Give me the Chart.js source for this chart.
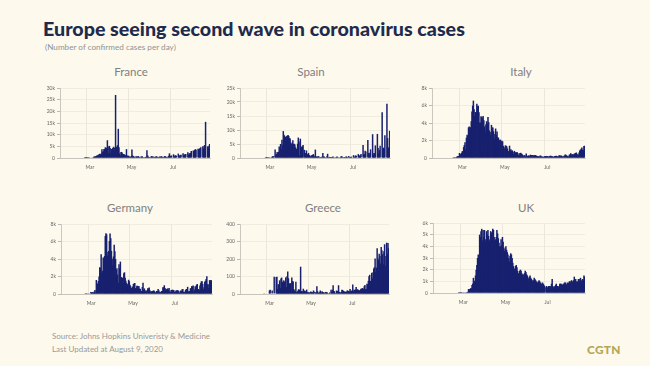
<!DOCTYPE html>
<html><head><meta charset="utf-8">
<script src="https://cdn.jsdelivr.net/npm/chart.js@4.4.1/dist/chart.umd.min.js"></script>
<style>
html,body{margin:0;padding:0;background:#fdf9ec;}
body{width:650px;height:366px;position:relative;overflow:hidden;font-family:Lato,'Open Sans',sans-serif;}
.txt{position:absolute;white-space:nowrap;line-height:1;}
#title{left:43px;top:19px;font-weight:900;color:#1e2b4d;font-size:17px;}
#sub{left:45px;top:43px;color:#939393;font-size:8.5px;}
.pt{position:absolute;white-space:nowrap;line-height:1;transform:translate(-50%,-50%);font-size:11.5px;color:#808080;}
#src1{left:52px;top:333px;color:#9a9a9a;font-size:8px;}
#src2{left:52px;top:345px;color:#9a9a9a;font-size:8px;}
#logo{left:587px;top:344px;color:#b4a757;font-weight:900;font-size:10px;letter-spacing:0.3px;}
canvas{position:absolute;}
</style></head><body>
<div class="txt" id="title">Europe seeing second wave in coronavirus cases</div>
<div class="txt" id="sub">(Number of confirmed cases per day)</div>
<div class="txt" id="src1">Source: Johns Hopkins Univeristy &amp; Medicine</div>
<div class="txt" id="src2">Last Updated at August 9, 2020</div>
<div class="txt" id="logo">CGTN</div>
<script>
// Daily confirmed cases, Jan 22 – Aug 28, 2020 (thousands, Greece in cases)
const france = [
 0,0,0,0,0,0,0,0,0,0,
 0,0,0,0,0,0,0,0,0,0, 0,0,0,0,0,0,0,0,0,0, 0,0,0,0,0,0,0.02,0.02,0.04,
 0.03,0.07,0.02,0.08,0.09,0.18,0.19,0.23,0.19,0.37, 0.5,0.6,0.8,0.8,0.9,1.2,1.1,1.4,1.6,1.8, 1.6,1.8,3.8,2.5,2.9,3.9,3.8,4.6,2.6,4.4, 7.6,
 4.9,2.1,5.2,4.3,1.9,3.9,3.8,4.3,4.8,4.4, 3.1,27.0,4.8,2.7,5.5,12.5,4.6,2.0,1.1,2.6, 2.6,2.0,1.6,1.7,1.5,0.4,1.3,3.8,1.1,0.8,
 1.0,0.6,0.5,0.4,0.9,3.6,1.1,0.8,0.6,0.4, 0.3,0.8,0.6,0.5,0.9,0.6,0.4,0.2,0.5,0.6, 0.7,0.4,0.3,0.2,0.4,0.5,0.4,3.3,1.1,0.6, 0.3,
 0.4,0.3,0.6,0.8,0.6,0.6,0.3,0.5,0.4,0.6, 0.7,0.5,0.4,0.3,0.5,0.6,0.5,0.8,0.6,0.4, 0.3,0.5,0.8,0.7,0.5,0.4,0.3,0.6,1.0,2.0,
 1.0,0.9,1.1,0,0,1.6,0.8,1.0,1.2,1.0, 0,0,1.9,1.2,0.9,1.3,1.4,0,0,2.0, 1.1,1.5,1.6,1.7,0,0,2.5,1.4,1.9,2.0, 2.2,
 3.0,0,0,3.2,2.6,3.4,3.8,3.5,0,0, 4.0,3.6,4.0,4.3,4.6,0,0,5.0,4.2,5.2, 5.6,15.5,0,0,5.0,4.5,5.2,6.0
];
const spain = [
 0,0,0,0,0,0,0,0,0,0,
 0,0,0,0,0,0,0,0,0,0, 0,0,0,0,0,0,0,0,0,0, 0,0,0,0,0,0,0,0.02,0.01,
 0.03,0.04,0.03,0.07,0.06,0.1,0.2,0.3,0.6,0.6, 0.6,0,3.0,1.2,1.4,2.1,1.8,2.2,4.1,2.4, 5.0,3.2,6.5,4.7,9.6,8.3,7.9,7.5,6.9,7.8, 8.0,
 8.2,7.9,7.1,7.0,5.5,5.0,5.3,6.3,5.0,5.1, 4.8,3.8,3.3,2.4,5.1,7.3,5.9,0.9,6.9,1.5, 4.0,4.2,4.6,0,2.9,1.7,1.8,2.7,1.3,1.3,
 1.8,1.1,0.8,0.5,0.9,1.0,1.1,1.4,0.8,0.6, 3.0,0.6,0.4,0.5,0.6,0.6,0.3,0.3,0.4,0.3, 0.5,1.8,0.5,0.5,0.4,0.2,0.3,0.6,1.5,0.3, 0.3,
 0.4,0.3,0.4,0.3,0.4,0.5,0.3,0.2,0.3,0.3, 0.4,0.5,0.3,0.2,0.3,0.2,0.4,0.6,0.6,0.3, 0.2,0.4,0.3,0.3,0.5,0.5,0.3,0.2,0.7,0.3,
 0.4,0.4,0.5,0,0,1.0,0.3,0.5,0.9,0.8, 0,0,1.4,0.5,0.9,1.0,1.4,0,0,4.6, 1.4,1.4,2.6,2.3,0,0,6.4,1.8,1.2,1.9, 3.1,
 0,0,8.5,1.2,1.8,1.7,4.5,0,0,8.6, 3.6,1.7,2.9,4.4,0,0,16.3,3.0,3.7,3.3, 8.1,0,0,19.4,7.1,3.6,3.8,9.7
];
const italy = [
 0,0,0,0,0,0,0,0,0,0,
 0,0,0,0,0,0,0,0,0,0, 0,0,0,0,0,0,0,0,0,0, 0.017,0.042,0.093,0.074,0.093,0.131,0.202,0.233,0.24,
 0.566,0.342,0.466,0.587,0.769,0.778,1.247,1.492,1.797,0.977, 2.313,2.651,2.547,3.497,3.59,3.233,3.526,4.207,5.322,5.986, 6.557,5.56,4.789,5.249,5.21,6.203,5.909,5.974,5.217,4.05, 4.053,
 4.782,4.668,4.585,4.805,4.316,3.599,3.039,3.836,4.204,3.951, 4.694,4.092,3.153,2.972,2.667,3.786,3.493,3.491,3.047,2.256, 2.729,3.37,2.646,3.021,2.357,2.324,1.739,2.091,2.086,1.872,
 1.965,1.9,1.389,1.221,1.075,1.444,1.401,1.327,1.083,0.802, 0.744,1.402,0.888,0.992,0.789,0.875,0.675,0.451,0.813,0.665, 0.642,0.652,0.669,0.531,0.3,0.397,0.584,0.593,0.516,0.416, 0.355,
 0.178,0.318,0.321,0.177,0.518,0.27,0.197,0.28,0.283,0.202, 0.379,0.163,0.346,0.338,0.301,0.21,0.329,0.333,0.251,0.262, 0.224,0.218,0.122,0.19,0.296,0.259,0.175,0.174,0.126,0.142,
 0.187,0.201,0.223,0.235,0.192,0.208,0.138,0.193,0.229,0.276, 0.188,0.234,0.169,0.114,0.163,0.23,0.233,0.249,0.219,0.19, 0.129,0.282,0.306,0.252,0.275,0.255,0.17,0.181,0.212,0.289, 0.386,
 0.379,0.295,0.239,0.159,0.19,0.384,0.402,0.552,0.347,0.463, 0.259,0.412,0.481,0.523,0.574,0.629,0.479,0.32,0.403,0.642, 0.845,0.947,1.071,1.21,0.953,0.878,1.367,1.411
];
const germany = [
 0,0,0,0,0,0,0,0,0,0,
 0,0,0,0,0,0,0,0,0,0, 0,0,0,0,0,0,0,0,0,0, 0,0,0,0,0,0.01,0.02,0.01,0.03,
 0.07,0.03,0.04,0.07,0.22,0.19,0.13,0.24,0.14,0.28, 0.45,0.17,1.6,0.91,1.21,1.48,1.99,3.07,2.99,4.53, 2.37,2.66,4.18,3.93,4.34,6.62,6.93,6.82,4.4,4.79, 4.92,
 6.06,6.92,6.37,4.93,4.03,3.25,4.29,5.63,4.89,3.99, 2.74,2.95,2.22,1.29,3.39,2.95,3.7,1.95,1.84,1.88, 1.23,2.36,2.48,1.87,1.51,1.26,0.99,1.15,1.63,1.47,
 1.07,0.89,0.7,0.68,0.85,1.15,1.21,1.25,0.67,0.67, 0.93,0.93,0.8,0.91,0.62,0.58,0.34,0.31,0.8,1.3, 0.46,0.64,0.43,0.29,0.36,0.43,0.67,0.63,0.74,0.43, 0.29,
 0.21,0.34,0.34,0.39,0.41,0.3,0.18,0.21,0.35,0.32, 0.56,0.42,0.25,0.19,0.19,0.35,0.35,0.77,0.77,1.0, 0.69,0.54,0.5,0.59,0.63,0.48,0.69,0.26,0.26,0.47,
 0.47,0.5,0.42,0.42,0.24,0.22,0.4,0.4,0.44,0.38, 0.38,0.16,0.16,0.41,0.35,0.53,0.58,0.25,0.25,0.24, 0.45,0.57,0.57,0.82,0.3,0.3,0.34,0.63,0.68,0.9, 0.87,
 0.96,0.24,0.51,0.88,0.74,1.05,1.15,0.56,0.56,0.44, 0.97,1.23,1.45,1.45,1.16,0.56,0.78,1.39,1.51,1.71, 2.03,1.12,0.68,1.11,1.58,1.58,1.55,1.57
];
const greece = [
 0,0,0,0,0,0,0,0,0,0,
 0,0,0,0,0,0,0,0,0,0, 0,0,0,0,0,0,0,0,0,0, 0,0,0,0,0,1,2,0,3,
 0,0,0,0,20,24,0,0,20,0, 0,99,0,0,97,98,30,56,53,78, 35,88,94,70,48,78,71,72,95,40, 101,
 129,90,60,60,62,20,95,74,71,29, 20,15,70,10,15,19,27,25,12,156, 17,10,16,30,14,20,15,15,25,10,
 10,8,10,2,15,12,10,8,20,13, 3,10,8,45,16,7,7,10,20,15, 6,15,11,8,8,3,12,10,10,5, 3,
 5,9,3,25,13,25,50,17,15,6, 4,20,16,17,50,13,12,7,10,25, 23,18,17,12,11,14,13,21,15,18,
 14,28,14,20,15,55,16,25,23,26, 40,23,27,25,18,21,23,30,27,35, 25,31,45,52,27,28,58,55,75,102, 110,
 75,62,121,89,124,146,153,203,126,151, 262,204,194,230,217,175,269,250,227,170, 245,284,161,217,293,230,291,262
];
const uk = [
 0,0,0,0,0,0,0,0,0,0,
 0,0,0,0,0,0,0,0,0,0, 0,0,0,0,0,0,0,0,0,0, 0,0,0,0,0,0,0,0.01,0.01,
 0.01,0.01,0.01,0.03,0.03,0.05,0.04,0.07,0.05,0.06, 0.08,0.1,0.34,0.34,0.2,0.41,0.41,0.68,0.8,1.3, 1.05,1.0,1.5,2.0,2.4,3.0,3.3,3.2,5.0,4.8, 5.3,
 5.5,4.5,5.4,4.8,5.4,4.6,4.4,5.3,5.0,5.4, 4.9,4.5,4.6,5.3,5.2,4.6,5.5,5.4,4.8,4.5, 4.6,4.8,5.4,5.1,4.7,4.3,4.0,4.0,4.6,4.1,
 4.8,4.4,3.9,3.6,3.8,4.0,3.7,3.5,3.3,3.0, 2.7,3.2,3.4,3.3,3.0,2.6,2.3,2.1,2.0,2.3, 2.4,2.2,1.9,1.7,1.6,1.9,2.0,1.9,1.7,1.6, 1.4,
 1.6,1.7,1.9,1.8,1.6,1.5,1.3,1.2,1.4,1.5, 1.3,1.2,1.1,1.0,1.1,1.3,1.2,1.1,1.0,0.9, 0.9,1.0,1.1,1.0,0.9,0.8,0.8,0.9,0.8,0.7,
 0.6,0,0.5,0.6,0.5,0.4,0.6,0.6,0.6,0.5, 0.8,1.2,0.6,0.5,0.5,0.6,0.7,0.8,0.6,0.6, 0.5,0.6,0.8,0.8,0.8,0.7,0.7,0.8,0.8,0.9, 0.9,
 0.8,0.7,0.9,0.7,0.9,1.0,1.0,0.9,1.1,1.0, 0.9,1.1,1.4,1.0,1.2,1.0,0.8,1.0,1.2,1.2, 1.0,1.3,1.1,0.9,1.2,1.1,1.5,1.4
];

// categories: one per day starting Jan 22, 2020
const firstDay = [2020, 0, 22];
const dayLabels = france.map((_, i) => new Date(Date.UTC(firstDay[0], firstDay[1], firstDay[2] + i)).toISOString().slice(0, 10));
const tickDates = ['2020-03-01', '2020-05-01', '2020-07-01'];
const tickLabels = ['Mar', 'May', 'Jul'];
const tickIdx = tickDates.map(d => dayLabels.indexOf(d));

const panels = [
  {name:'France',  data:france,  max:30,  step:5,   unit:'k', rect:[60,210,88,158],  tc:[131,72]},
  {name:'Spain',   data:spain,   max:25,  step:5,   unit:'k', rect:[240,390,88,158], tc:[311,72]},
  {name:'Italy',   data:italy,   max:8,   step:2,   unit:'k', rect:[432,585,88,158], tc:[521,72]},
  {name:'Germany', data:germany, max:8,   step:2,   unit:'k', rect:[61,212,224,294], tc:[130,208]},
  {name:'Greece',  data:greece,  max:400, step:100, unit:'',  rect:[240,389,224,294], tc:[323,208]},
  {name:'UK',      data:uk,      max:6,   step:1,   unit:'k', rect:[433,585,223,293], tc:[526,208]}
];
panels.forEach(p => { if (p.data.length !== dayLabels.length) throw new Error(p.name + ' has ' + p.data.length + ' values, expected ' + dayLabels.length); });

function fitWidth(id, target) {
  const el = document.getElementById(id);
  const w = el.getBoundingClientRect().width;
  const fs = parseFloat(getComputedStyle(el).fontSize);
  el.style.fontSize = (fs * target / w).toFixed(2) + 'px';
}
fitWidth('title', 422);
fitWidth('sub', 131);
fitWidth('src1', 158);
fitWidth('src2', 111);
fitWidth('logo', 34);

Chart.defaults.font.family = "Lato, 'Open Sans', sans-serif";

function makePanel(p) {
  const t = document.createElement('div');
  t.className = 'pt';
  t.textContent = p.name;
  t.style.left = p.tc[0] + 'px';
  t.style.top = p.tc[1] + 'px';
  document.body.appendChild(t);

  const [l, r, top, b] = p.rect;
  const cx = l - 22, cy = top - 5;
  const w = r + 3 - cx, h = b + 16 - cy;
  const cv = document.createElement('canvas');
  cv.width = w; cv.height = h;
  cv.style.left = cx + 'px'; cv.style.top = cy + 'px';
  cv.style.width = w + 'px'; cv.style.height = h + 'px';
  document.body.appendChild(cv);
  const yW = l - cx, xH = cy + h - b;

  new Chart(cv, {
    type: 'bar',
    data: {labels: dayLabels, datasets: [{data: p.data, backgroundColor: '#18216f', borderWidth: 0, barPercentage: 2.2, categoryPercentage: 1}]},
    options: {
      responsive: false, animation: false, devicePixelRatio: 1, events: [],
      layout: {padding: {top: top - cy, right: cx + w - r, left: 0, bottom: 0}},
      plugins: {legend: {display: false}, tooltip: {enabled: false}},
      scales: {
        x: {
          grid: {offset: false, color: '#e6e2d6', lineWidth: 0.8, drawTicks: false},
          border: {color: '#bdbab2', width: 0.8},
          ticks: {maxRotation: 0, minRotation: 0, autoSkip: false, padding: 6, font: {size: 5}, color: '#666', labelOffset: 3,
                  callback: (v, i) => tickLabels[i]},
          afterBuildTicks: s => { s.ticks = tickIdx.map(v => ({value: v})); },
          afterFit: s => { s.height = xH; }
        },
        y: {
          min: 0, max: p.max,
          ticks: {stepSize: p.step, font: {size: 5}, color: '#666', padding: 2,
                  callback: v => v === 0 ? '0' : v + p.unit},
          grid: {color: '#ece8dc', lineWidth: 0.8, tickLength: 3, tickColor: '#aaa'},
          border: {color: '#bdbab2', width: 0.8},
          afterFit: s => { s.width = yW; }
        }
      }
    }
  });
}
panels.forEach(makePanel);
</script>
</body></html>
